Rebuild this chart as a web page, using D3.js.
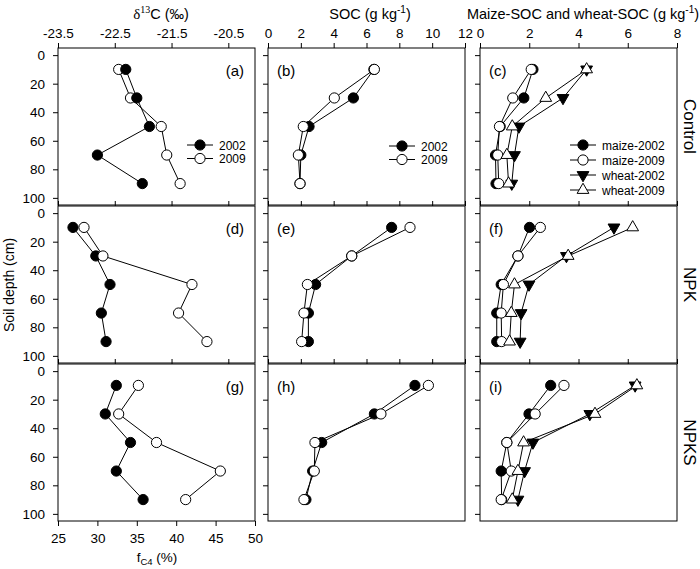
<!DOCTYPE html>
<html><head><meta charset="utf-8">
<script src="https://cdn.jsdelivr.net/npm/d3@7"></script>
<style>
body{margin:0;background:#fff}
svg{display:block}
text{font-family:Arial,"Liberation Sans",sans-serif;fill:#000}
</style>
</head><body>
<svg id="chart" width="700" height="569"></svg>
<script>
// ---------------- data ----------------
const depth = [10, 30, 50, 70, 90];
const treatments = ["Control", "NPK", "NPKS"];
const panelLetters = [["(a)", "(b)", "(c)"], ["(d)", "(e)", "(f)"], ["(g)", "(h)", "(i)"]];
const yearNames = ["2002", "2009"];
const partNames = ["maize-2002", "maize-2009", "wheat-2002", "wheat-2009"];

// fC4 (%) per treatment (Control, NPK, NPKS), depths 10..90
const fC4_2002 = [[33.6, 35.0, 36.6, 30.0, 35.7], [26.9, 29.8, 31.6, 30.5, 31.1], [32.4, 31.0, 34.2, 32.4, 35.8]];
const fC4_2009 = [[32.7, 34.2, 38.1, 38.8, 40.5], [28.3, 30.7, 42.0, 40.3, 43.9], [35.2, 32.7, 37.5, 45.6, 41.2]];
// SOC (g/kg)
const SOC_2002 = [[6.45, 5.2, 2.5, 2.0, 1.95], [7.53, 5.1, 2.9, 2.46, 2.46], [8.95, 6.48, 3.27, 2.72, 2.31]];
const SOC_2009 = [[6.48, 4.04, 2.15, 1.85, 1.95], [8.65, 5.1, 2.4, 2.19, 2.05], [9.77, 6.88, 2.86, 2.82, 2.19]];
// maize- and wheat-derived SOC (g/kg)
const maize_2002 = [[2.15, 1.78, 0.82, 0.63, 0.65], [2.01, 1.54, 0.86, 0.68, 0.68], [2.87, 1.99, 1.09, 0.86, 0.88]];
const maize_2009 = [[2.08, 1.33, 0.79, 0.72, 0.76], [2.45, 1.54, 0.95, 0.86, 0.88], [3.41, 2.24, 1.09, 1.27, 0.86]];
const wheat_2002 = [[4.33, 3.37, 1.58, 1.40, 1.29], [5.44, 3.51, 1.99, 1.67, 1.63], [6.30, 4.46, 2.15, 1.81, 1.54]];
const wheat_2009 = [[4.33, 2.67, 1.31, 1.09, 1.16], [6.20, 3.58, 1.40, 1.27, 1.20], [6.37, 4.67, 1.77, 1.54, 1.31]];

// tick labels
const depthTicks = [0, 20, 40, 60, 80, 100];
const d13CTicks = [-23.5, -22.5, -21.5, -20.5];
const fC4Ticks = [25, 30, 35, 40, 45, 50];
const socTicks = [0, 2, 4, 6, 8, 10, 12];
const partTicks = [0, 2, 4, 6, 8];

// ---------------- layout ----------------
const svg = d3.select("#chart");
const W = 197, H = 157;
const colX = [58, 268, 480];
const rowY = [48, 206, 364];

const y = d3.scaleLinear().domain([-5, 105]).range([0, H]);
const xF = d3.scaleLinear().domain([25, 50]).range([0, W]);
const xD = d3.scaleLinear().domain([-23.5, -20.03]).range([0, W]);
const xS = d3.scaleLinear().domain([0, 12]).range([0, W]);
const xP = d3.scaleLinear().domain([0, 8]).range([0, W]);

const symCircle = d3.symbol().type(d3.symbolCircle).size(82)();
const symTri = d3.symbol().type(d3.symbolTriangle).size(60)();

function marker(g, type, filled, cx, cy) {
  const rot = type === "down" ? 180 : 0;
  g.append("path")
    .attr("d", type === "circle" ? symCircle : symTri)
    .attr("transform", `translate(${cx},${cy}) rotate(${rot})`)
    .attr("fill", filled ? "#000" : "#fff")
    .attr("stroke", "#000").attr("stroke-width", 1);
}

function styleAxis(ax) {
  ax.select(".domain").remove();
  ax.selectAll(".tick line").attr("stroke", "#000");
  ax.selectAll("text").attr("font-size", 13.5).attr("fill", "#000")
    .attr("font-family", 'Arial,"Liberation Sans",sans-serif');
}

const seriesStyles = {
  "2002": {type: "circle", filled: true},
  "2009": {type: "circle", filled: false},
  "maize-2002": {type: "circle", filled: true},
  "maize-2009": {type: "circle", filled: false},
  "wheat-2002": {type: "down", filled: true},
  "wheat-2009": {type: "up", filled: false}
};

for (let r = 0; r < 3; r++) {
  for (let c = 0; c < 3; c++) {
    const g = svg.append("g").attr("transform", `translate(${colX[c]},${rowY[r]})`);
    const x = c === 0 ? xF : (c === 1 ? xS : xP);

    // border
    g.append("rect").attr("x", 0).attr("y", 0).attr("width", W).attr("height", H)
      .attr("fill", "none").attr("stroke", "#000").attr("stroke-width", 1);

    // left axis
    const la = g.append("g").call(
      d3.axisLeft(y).tickValues(depthTicks).tickSize(5).tickPadding(8)
        .tickFormat(c === 0 ? d3.format("d") : () => ""));
    styleAxis(la);

    // top axis
    let topScale, topVals;
    if (c === 0) { topScale = xD; topVals = d13CTicks; }
    else if (c === 1) { topScale = xS; topVals = socTicks; }
    else { topScale = xP; topVals = partTicks; }
    const ta = g.append("g").call(
      d3.axisTop(topScale).tickValues(topVals).tickSize(5).tickPadding(5)
        .tickFormat(r === 0 ? (v => (c === 0 ? d3.format(".1f")(v).replace("−", "-") : d3.format("d")(v))) : () => ""));
    styleAxis(ta);

    // bottom axis
    if (r === 2 && c === 0) {
      const ba = g.append("g").attr("transform", `translate(0,${H})`).call(
        d3.axisBottom(xF).tickValues(fC4Ticks).tickSize(5).tickPadding(7));
      styleAxis(ba);
    }

    // series
    let series;
    if (c === 0) {
      series = [{name: "2002", v: fC4_2002[r]}, {name: "2009", v: fC4_2009[r]}];
      if (r === 0) series.reverse();
    } else if (c === 1) {
      series = [{name: "2002", v: SOC_2002[r]}, {name: "2009", v: SOC_2009[r]}];
    } else {
      series = [
        {name: "maize-2002", v: maize_2002[r]},
        {name: "maize-2009", v: maize_2009[r]},
        {name: "wheat-2002", v: wheat_2002[r]},
        {name: "wheat-2009", v: wheat_2009[r]}
      ];
    }
    const line = d3.line().x(d => x(d[0])).y(d => y(d[1]));
    series.forEach(s => {
      g.append("path").attr("d", line(s.v.map((v, i) => [v, depth[i]])))
        .attr("fill", "none").attr("stroke", "#000").attr("stroke-width", 1);
    });
    series.forEach(s => {
      const st = seriesStyles[s.name];
      s.v.forEach((v, i) => marker(g, st.type, st.filled, x(v), y(depth[i])));
    });

    // panel label
    const left = c !== 0;
    g.append("text").attr("x", left ? 9 : W - 11).attr("y", 28)
      .attr("text-anchor", left ? "start" : "end")
      .attr("font-size", 15).text(panelLetters[r][c]);

    // legends (top row)
    if (r === 0) {
      let items, lx, ly;
      if (c === 0) { items = yearNames; lx = 142; ly = 97; }
      else if (c === 1) { items = yearNames; lx = 134; ly = 98; }
      else { items = partNames; lx = 103; ly = 97; }
      items.forEach((nm, i) => {
        const yy = ly + i * (c === 2 ? 15 : 13.5);
        g.append("line").attr("x1", lx - 13).attr("x2", lx + 13).attr("y1", yy).attr("y2", yy)
          .attr("stroke", "#000").attr("stroke-width", 1);
        const st = seriesStyles[nm];
        marker(g, st.type, st.filled, lx, yy);
        g.append("text").attr("x", lx + 19).attr("y", yy + 4.5).attr("font-size", 12).text(nm);
      });
    }
  }
  // right treatment labels
  svg.append("text")
    .attr("transform", `translate(684,${rowY[r] + H / 2}) rotate(90)`)
    .attr("text-anchor", "middle").attr("font-size", 17).text(treatments[r]);
}

// column titles
const t1 = svg.append("text").attr("x", 161).attr("y", 19).attr("text-anchor", "middle").attr("font-size", 14.5);
t1.append("tspan").attr("font-family", '"Liberation Serif","Times New Roman",serif').attr("font-size", 15).text("δ");
t1.append("tspan").attr("font-family", '"Liberation Serif","Times New Roman",serif').attr("font-size", 10).attr("dy", -6).text("13");
t1.append("tspan").attr("dy", 6).text("C  (‰)");

const t2 = svg.append("text").attr("x", 370).attr("y", 19).attr("text-anchor", "middle").attr("font-size", 14.5);
t2.append("tspan").text("SOC (g kg");
t2.append("tspan").attr("font-size", 10).attr("dy", -6).text("-1");
t2.append("tspan").attr("dy", 6).text(")");

const t3 = svg.append("text").attr("x", 583).attr("y", 19).attr("text-anchor", "middle").attr("font-size", 14.5);
t3.append("tspan").text("Maize-SOC and wheat-SOC (g kg");
t3.append("tspan").attr("font-size", 10).attr("dy", -6).text("-1");
t3.append("tspan").attr("dy", 6).text(")");

// bottom label
const t4 = svg.append("text").attr("x", 157).attr("y", 562).attr("text-anchor", "middle").attr("font-size", 13.5);
t4.append("tspan").text("f");
t4.append("tspan").attr("font-size", 9.5).attr("dy", 3).text("C4");
t4.append("tspan").attr("dy", -3).text(" (%)");

// y label
svg.append("text").attr("transform", "translate(14,285) rotate(-90)")
  .attr("text-anchor", "middle").attr("font-size", 14).text("Soil depth (cm)");
</script>
</body></html>
